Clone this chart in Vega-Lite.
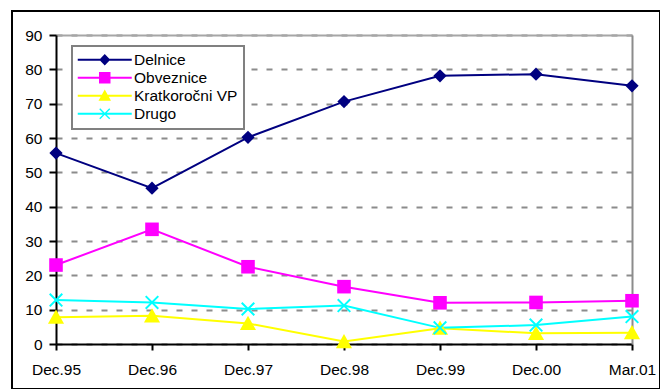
{
  "$schema": "https://vega.github.io/schema/vega-lite/v6.json",
  "width": 648,
  "height": 378,
  "autosize": {"type": "none"},
  "padding": {"left": 12, "top": 11, "right": 0, "bottom": 0},
  "background": "white",
  "config": {
    "view": {"stroke": "black", "strokeWidth": 2},
    "font": "Liberation Sans",
    "axis": {"labelFont": "Liberation Sans", "labelFontSize": 15.5, "labelColor": "black", "title": null},
    "legend": {"strokeWidth": 2}
  },
  "data": {
    "values": [
      {"period": "Dec.95", "series": "Delnice", "value": 55.6},
      {"period": "Dec.96", "series": "Delnice", "value": 45.4},
      {"period": "Dec.97", "series": "Delnice", "value": 60.2},
      {"period": "Dec.98", "series": "Delnice", "value": 70.6},
      {"period": "Dec.99", "series": "Delnice", "value": 78.1},
      {"period": "Dec.00", "series": "Delnice", "value": 78.6},
      {"period": "Mar.01", "series": "Delnice", "value": 75.2},
      {"period": "Dec.95", "series": "Obveznice", "value": 23.0},
      {"period": "Dec.96", "series": "Obveznice", "value": 33.4},
      {"period": "Dec.97", "series": "Obveznice", "value": 22.5},
      {"period": "Dec.98", "series": "Obveznice", "value": 16.7},
      {"period": "Dec.99", "series": "Obveznice", "value": 12.0},
      {"period": "Dec.00", "series": "Obveznice", "value": 12.1},
      {"period": "Mar.01", "series": "Obveznice", "value": 12.6},
      {"period": "Dec.95", "series": "Kratkoročni VP", "value": 7.8},
      {"period": "Dec.96", "series": "Kratkoročni VP", "value": 8.2},
      {"period": "Dec.97", "series": "Kratkoročni VP", "value": 6.0},
      {"period": "Dec.98", "series": "Kratkoročni VP", "value": 0.7},
      {"period": "Dec.99", "series": "Kratkoročni VP", "value": 4.6},
      {"period": "Dec.00", "series": "Kratkoročni VP", "value": 3.1},
      {"period": "Mar.01", "series": "Kratkoročni VP", "value": 3.3},
      {"period": "Dec.95", "series": "Drugo", "value": 12.8},
      {"period": "Dec.96", "series": "Drugo", "value": 12.1},
      {"period": "Dec.97", "series": "Drugo", "value": 10.2},
      {"period": "Dec.98", "series": "Drugo", "value": 11.2},
      {"period": "Dec.99", "series": "Drugo", "value": 4.7},
      {"period": "Dec.00", "series": "Drugo", "value": 5.5},
      {"period": "Mar.01", "series": "Drugo", "value": 8.0}
    ]
  },
  "layer": [
    {
      "mark": {"type": "line", "strokeWidth": 2},
      "encoding": {
        "x": {
          "field": "period", "type": "ordinal",
          "scale": {"type": "point", "padding": 0, "domain": ["Dec.95", "Dec.96", "Dec.97", "Dec.98", "Dec.99", "Dec.00", "Mar.01"], "range": [44, 620]},
          "axis": {"orient": "top", "offset": -24, "domainColor": "#a6a6a6", "domainWidth": 2, "ticks": false, "labels": false, "grid": false}
        },
        "y": {
          "field": "value", "type": "quantitative",
          "scale": {"domain": [0, 90], "range": [333, 24], "nice": false},
          "axis": {"orient": "right", "offset": -28, "domainColor": "#8c8c8c", "domainWidth": 2, "ticks": false, "labels": false, "grid": false}
        },
        "stroke": {
          "field": "series", "type": "nominal",
          "scale": {"domain": ["Drugo", "Kratkoročni VP", "Obveznice", "Delnice"], "range": ["#00ffff", "#ffff00", "#ff00ff", "#000080"]},
          "legend": null
        }
      }
    },
    {
      "transform": [{"filter": "datum.series === 'Delnice'"}],
      "mark": {"type": "point", "shape": "M0,-0.95L0.95,0L0,0.95L-0.95,0Z", "filled": true, "opacity": 1, "size": 196, "strokeWidth": 0},
      "encoding": {
        "x": {
          "field": "period", "type": "ordinal",
          "scale": {"type": "point", "padding": 0, "domain": ["Dec.95", "Dec.96", "Dec.97", "Dec.98", "Dec.99", "Dec.00", "Mar.01"], "range": [44, 620]},
          "axis": {"orient": "bottom", "offset": -45, "labelAngle": 0, "domainColor": "black", "domainWidth": 2, "tickColor": "black", "tickWidth": 2, "tickSize": 6, "labelPadding": 12, "grid": false}
        },
        "y": {
          "field": "value", "type": "quantitative",
          "scale": {"domain": [0, 90], "range": [333, 24], "nice": false},
          "axis": {"orient": "left", "offset": -44, "values": [0, 10, 20, 30, 40, 50, 60, 70, 80, 90], "domainColor": "black", "domainWidth": 2, "tickColor": "black", "tickWidth": 2, "tickSize": 7, "labelPadding": 7, "grid": true, "gridColor": "#8c8c8c", "gridWidth": 2, "gridDash": [6, 9]}
        },
        "color": {
          "field": "series", "type": "nominal",
          "scale": {"domain": ["Delnice", "Obveznice", "Kratkoročni VP", "Drugo"], "range": ["#000080", "#ff00ff", "#ffff00", "#00ffff"]}
        }
      }
    },
    {
      "transform": [{"filter": "datum.series === 'Obveznice'"}],
      "mark": {"type": "point", "shape": "M-0.97,-0.97L0.97,-0.97L0.97,0.97L-0.97,0.97Z", "filled": true, "opacity": 1, "size": 196, "strokeWidth": 0},
      "encoding": {
        "x": {"field": "period", "type": "ordinal", "axis": null},
        "y": {"field": "value", "type": "quantitative", "axis": null},
        "color": {"field": "series", "type": "nominal"}
      }
    },
    {
      "transform": [{"filter": "datum.series === 'Kratkoročni VP'"}],
      "mark": {"type": "point", "shape": "M0,-1.1L1.15,0.95L-1.15,0.95Z", "filled": true, "opacity": 1, "size": 196, "strokeWidth": 0},
      "encoding": {
        "x": {"field": "period", "type": "ordinal", "axis": null},
        "y": {"field": "value", "type": "quantitative", "axis": null},
        "color": {"field": "series", "type": "nominal"}
      }
    },
    {
      "transform": [{"filter": "datum.series === 'Drugo'"}],
      "mark": {"type": "point", "shape": "M-1,-0.8L-0.8,-1L1,0.8L0.8,1Z M0.8,-1L1,-0.8L-0.8,1L-1,0.8Z", "filled": true, "opacity": 1, "size": 196, "strokeWidth": 0},
      "encoding": {
        "x": {"field": "period", "type": "ordinal", "axis": null},
        "y": {"field": "value", "type": "quantitative", "axis": null},
        "color": {"field": "series", "type": "nominal"}
      }
    },
    {
      "mark": {"type": "point", "filled": true, "opacity": 0, "strokeWidth": 0},
      "encoding": {
        "x": {"field": "period", "type": "ordinal", "axis": null},
        "y": {"field": "value", "type": "quantitative", "axis": null},
        "shape": {
          "field": "series", "type": "nominal",
          "scale": {
            "domain": ["Delnice", "Obveznice", "Kratkoročni VP", "Drugo"],
            "range": [
              "M-5.4,-0.2L5.4,-0.2L5.4,0.2L-5.4,0.2Z M0,-1.15L1.1,0L0,1.15L-1.1,0Z",
              "M-5.4,-0.2L5.4,-0.2L5.4,0.2L-5.4,0.2Z M-1.15,-1.15L1.15,-1.15L1.15,1.15L-1.15,1.15Z",
              "M-5.4,-0.2L5.4,-0.2L5.4,0.2L-5.4,0.2Z M0,-1.25L1.25,1L-1.25,1Z",
              "M-5.4,-0.2L5.4,-0.2L5.4,0.2L-5.4,0.2Z M-1.1,-0.9L-0.9,-1.1L1.1,0.9L0.9,1.1Z M0.9,-1.1L1.1,-0.9L-0.9,1.1L-1.1,0.9Z"
            ]
          }
        },
        "color": {
          "field": "series", "type": "nominal",
          "legend": {
            "title": null,
            "orient": "none",
            "legendX": 60,
            "legendY": 35,
            "padding": 6,
            "strokeColor": "#808080",
            "fillColor": "white",
            "symbolSize": 100,
            "symbolStrokeWidth": 0,
            "symbolOpacity": 1,
            "symbolOffset": 19,
            "labelOffset": 21.5,
            "labelFont": "Liberation Sans",
            "labelFontSize": 15.5,
            "labelColor": "black",
            "labelLimit": 300,
            "rowPadding": 1
          }
        }
      }
    }
  ],
  "resolve": {"axis": {"x": "independent", "y": "independent"}}
}
